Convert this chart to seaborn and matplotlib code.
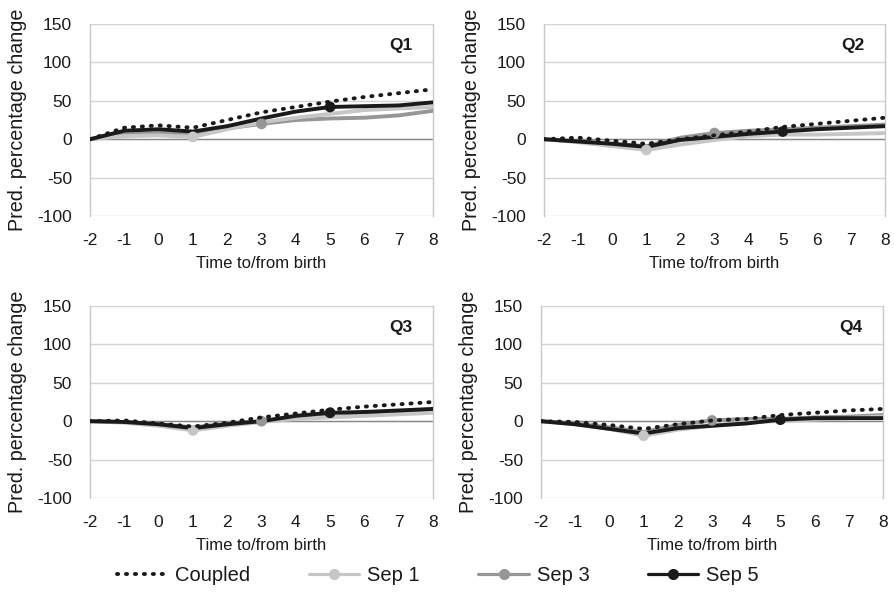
import numpy as np
import pandas as pd
import matplotlib.pyplot as plt
import seaborn as sns
from matplotlib.lines import Line2D

# Time points and panel names
years = [-2, -1, 0, 1, 2, 3, 4, 5, 6, 7, 8]
quartiles = ['Q1', 'Q2', 'Q3', 'Q4']
series = ['Coupled', 'Sep 1', 'Sep 3', 'Sep 5']

# Predicted percentage change
coupled = {
    'Q1': [0, 15, 18, 15, 25, 35, 42, 49, 55, 60, 65],
    'Q2': [0, 2, -2, -6, 0, 5, 10, 16, 20, 24, 28],
    'Q3': [0, 1, -3, -7, -2, 5, 10, 15, 19, 22, 25],
    'Q4': [0, -1, -5, -10, -4, 1, 3, 8, 11, 14, 16],
}
sep1 = {
    'Q1': [0, 4, 5, 3, 13, 22, 28, 33, 38, 40, 42],
    'Q2': [0, -4, -9, -14, -7, -1, 4, 6, 6, 7, 8],
    'Q3': [0, -2, -6, -12, -6, -1, 3, 5, 7, 9, 11],
    'Q4': [0, -4, -10, -19, -11, -6, -1, 0, 2, 4, 6],
}
sep3 = {
    'Q1': [0, 6, 8, 7, 14, 20, 25, 27, 28, 31, 37],
    'Q2': [0, -3, -6, -9, 2, 8, 11, 13, 15, 17, 19],
    'Q3': [0, -1, -4, -8, -3, 0, 4, 6, 8, 10, 12],
    'Q4': [0, -3, -8, -14, -5, 1, 3, 3, 5, 6, 8],
}
sep5 = {
    'Q1': [0, 11, 13, 10, 17, 27, 36, 42, 43, 44, 48],
    'Q2': [0, -3, -6, -10, -1, 3, 7, 10, 13, 15, 17],
    'Q3': [0, -1, -4, -9, -4, 0, 7, 11, 12, 14, 16],
    'Q4': [0, -4, -10, -16, -9, -6, -3, 2, 4, 4, 4],
}
# time point where each separated series carries its marker
marker_at = {'Sep 1': 1, 'Sep 3': 3, 'Sep 5': 5}

rows = []
for q in quartiles:
    for name, d in zip(series, [coupled, sep1, sep3, sep5]):
        for t, v in zip(years, d[q]):
            rows.append({'quartile': q, 'series': name, 'time': t, 'change': v})
df = pd.DataFrame(rows)

sns.set_theme(style='white')
plt.rcParams['font.family'] = ['Liberation Sans', 'DejaVu Sans']
plt.rcParams['axes.unicode_minus'] = False

colors = {'Coupled': '#1a1a1a', 'Sep 1': '#c6c6c6', 'Sep 3': '#969696', 'Sep 5': '#1a1a1a'}
dots = (0, (0.3, 2.0))
txt = '#1a1a1a'

fig = plt.figure(figsize=(8.94, 6.01), dpi=100)
boxes = [
    [0.1007, 0.6406, 0.3836, 0.3194],
    [0.6085, 0.6406, 0.3815, 0.3194],
    [0.1007, 0.1714, 0.3836, 0.3194],
    [0.6051, 0.1714, 0.3826, 0.3194],
]

for q, box in zip(quartiles, boxes):
    ax = fig.add_axes(box)
    sub = df[df['quartile'] == q]
    for name in ['Sep 3', 'Sep 1', 'Sep 5', 'Coupled']:
        s = sub[sub['series'] == name]
        if name == 'Coupled':
            sns.lineplot(data=s, x='time', y='change', ax=ax, color=colors[name],
                         linestyle=dots, linewidth=2.8, dash_capstyle='round', zorder=5)
        else:
            sns.lineplot(data=s, x='time', y='change', ax=ax, color=colors[name],
                         linewidth=2.8, zorder=3)
            m = s[s['time'] == marker_at[name]]
            ax.scatter(m['time'], m['change'], s=60, color=colors[name], zorder=4,
                       edgecolor='none')
    ax.set_xlim(-2, 8)
    ax.set_ylim(-100, 150)
    ax.set_xticks(years)
    ax.set_yticks([-100, -50, 0, 50, 100, 150])
    ax.yaxis.grid(True, color='#d4d4d4', linewidth=1.0)
    ax.axhline(0, color='#8a8a8a', linewidth=1.0, zorder=1)
    for side in ['top', 'bottom']:
        ax.spines[side].set_visible(False)
    for side in ['left', 'right']:
        ax.spines[side].set_color('#c8c8c8')
        ax.spines[side].set_linewidth(1.0)
    ax.tick_params(axis='both', length=0, labelsize=12.5, colors=txt)
    ax.tick_params(axis='x', pad=12)
    ax.tick_params(axis='y', pad=13)
    ax.set_xlabel('Time to/from birth', fontsize=12, color=txt, labelpad=6)
    ax.set_ylabel('Pred. percentage change', fontsize=14.2, color=txt, labelpad=7)
    ax.text(0.905, 0.89, q, transform=ax.transAxes, ha='center', va='center',
            fontsize=12.5, fontweight='bold', color=txt)

handles = [
    Line2D([], [], color=colors['Coupled'], linestyle=dots, linewidth=2.8,
           dash_capstyle='round'),
    Line2D([], [], color=colors['Sep 1'], linewidth=2.3, marker='o', markersize=7),
    Line2D([], [], color=colors['Sep 3'], linewidth=2.3, marker='o', markersize=7),
    Line2D([], [], color=colors['Sep 5'], linewidth=2.3, marker='o', markersize=7),
]
fig.legend(handles, series, loc='center', bbox_to_anchor=(0.49, 0.042), ncol=4,
           frameon=False, fontsize=14.5, handlelength=2.5, columnspacing=2.9,
           handletextpad=0.4, numpoints=1, labelcolor=txt)

fig.savefig('out.png', dpi=100)
